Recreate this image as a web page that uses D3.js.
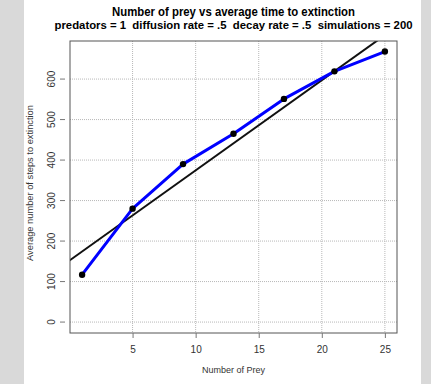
<!DOCTYPE html>
<html>
<head>
<meta charset="utf-8">
<script src="https://cdn.jsdelivr.net/npm/d3@7"></script>
<style>
  html, body { margin: 0; padding: 0; background: #d9d9d9; }
  #chart { position: absolute; left: 24px; top: 0; width: 397px; height: 384px; background: #fff; }
  text { font-family: "Liberation Sans", Arial, sans-serif; }
  .title { white-space: pre; }
</style>
</head>
<body>
<div id="chart"></div>
<script>
// Number of prey vs average steps to extinction
const preyCounts = [1, 5, 9, 13, 17, 21, 25];
const avgSteps = [117, 280, 390, 465, 551, 619, 668];
// fitted straight line, read at its two ends
const fitX = [0, 27];
const fitY = [152, 753];
const xTicks = [5, 10, 15, 20, 25];
const yTicks = [0, 100, 200, 300, 400, 500, 600];

const titleLines = [
  'Number of prey vs average time to extinction',
  'predators = 1  diffusion rate = .5  decay rate = .5  simulations = 200'
];

const margin = {top: 41, right: 24, bottom: 51, left: 46};
const width = 397 - margin.left - margin.right;
const height = 384 - margin.top - margin.bottom;

const svg = d3.select('#chart')
  .append('svg')
  .attr('width', 397)
  .attr('height', 384);

const g = svg.append('g')
  .attr('transform', `translate(${margin.left},${margin.top})`);

const x = d3.scaleLinear()
  .domain([0.04, 25.96])
  .range([0, width]);

const y = d3.scaleLinear()
  .domain([-27, 694])
  .range([height, 0]);

// Grid
g.selectAll('.vgrid')
  .data(xTicks)
  .enter()
  .append('line')
  .attr('x1', d => x(d)).attr('x2', d => x(d))
  .attr('y1', 0).attr('y2', height)
  .attr('stroke', '#b8b8b8')
  .attr('stroke-dasharray', '1,1');

g.selectAll('.hgrid')
  .data(yTicks)
  .enter()
  .append('line')
  .attr('x1', 0).attr('x2', width)
  .attr('y1', d => y(d)).attr('y2', d => y(d))
  .attr('stroke', '#b8b8b8')
  .attr('stroke-dasharray', '1,1');

// Fit line
g.append('clipPath')
  .attr('id', 'plot-clip')
  .append('rect')
  .attr('width', width)
  .attr('height', height);

g.append('path')
  .datum(fitX.map((v, i) => [v, fitY[i]]))
  .attr('clip-path', 'url(#plot-clip)')
  .attr('fill', 'none')
  .attr('stroke', '#111')
  .attr('stroke-width', 2)
  .attr('d', d3.line().x(d => x(d[0])).y(d => y(d[1])));

// Data line
const data = preyCounts.map((v, i) => ({prey: v, steps: avgSteps[i]}));

g.append('path')
  .datum(data)
  .attr('fill', 'none')
  .attr('stroke', '#0000ff')
  .attr('stroke-width', 3)
  .attr('stroke-linejoin', 'round')
  .attr('d', d3.line().x(d => x(d.prey)).y(d => y(d.steps)));

g.selectAll('.pt')
  .data(data)
  .enter()
  .append('circle')
  .attr('cx', d => x(d.prey))
  .attr('cy', d => y(d.steps))
  .attr('r', 3.2)
  .attr('fill', '#000');

// Box
g.append('rect')
  .attr('width', width)
  .attr('height', height)
  .attr('fill', 'none')
  .attr('stroke', '#555')
  .attr('stroke-width', 1);

// Axes
const xAxis = g.append('g')
  .attr('transform', `translate(0,${height})`)
  .call(d3.axisBottom(x).tickValues(xTicks).tickSize(5).tickPadding(8));

const yAxis = g.append('g')
  .attr('transform', 'translate(-5,0)')
  .call(d3.axisLeft(y).tickValues(yTicks).tickSize(5).tickPadding(3));

svg.selectAll('.domain').remove();
svg.selectAll('.tick line').attr('stroke', '#777');
xAxis.selectAll('text')
  .style('font-size', '10px')
  .style('fill', '#333');

// rotate the y tick labels like R does
yAxis.selectAll('.tick').attr('transform', null);
yAxis.selectAll('.tick line')
  .attr('y1', d => y(d)).attr('y2', d => y(d));
yAxis.selectAll('text')
  .style('font-size', '10px')
  .style('fill', '#333')
  .attr('text-anchor', 'middle')
  .attr('x', -13)
  .attr('y', d => y(d))
  .attr('dy', '0.35em')
  .attr('transform', d => `rotate(-90,-13,${y(d)})`);

// Axis titles
g.append('text')
  .attr('x', width / 2)
  .attr('y', height + 40)
  .attr('text-anchor', 'middle')
  .style('font-size', '9px')
  .style('fill', '#333')
  .text('Number of Prey');

g.append('text')
  .attr('transform', `translate(-37,${height / 2 - 4}) rotate(-90)`)
  .attr('text-anchor', 'middle')
  .style('font-size', '9.3px')
  .style('fill', '#333')
  .text('Average number of steps to extinction');

// Title
const titleWidths = [243, 358];
svg.selectAll('.title')
  .data(titleLines)
  .enter()
  .append('text')
  .attr('class', 'title')
  .attr('x', margin.left + width / 2)
  .attr('y', (d, i) => 16 + i * 13)
  .attr('text-anchor', 'middle')
  .attr('textLength', (d, i) => titleWidths[i])
  .attr('lengthAdjust', 'spacingAndGlyphs')
  .style('font-size', (d, i) => i === 0 ? '12.3px' : '11.5px')
  .style('font-weight', '700')
  .style('fill', '#000')
  .text(d => d);
</script>
</body>
</html>
